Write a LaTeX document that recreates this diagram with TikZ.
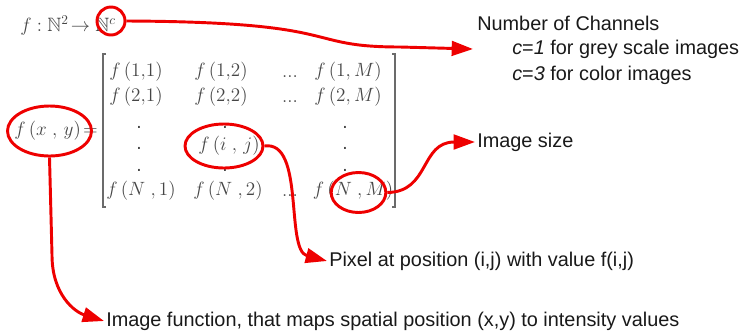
\documentclass[tikz,border=0pt]{standalone}
\usepackage{amssymb}
\usepackage[no-math]{fontspec}
\setmainfont{Liberation Sans}
\usetikzlibrary{arrows.meta,shapes.geometric}
\definecolor{rd}{RGB}{238,0,0}
\definecolor{mgray}{RGB}{70,70,70}
\tikzset{
  conn/.style={draw=rd, line width=2.2pt},
  arr/.style={conn, -{Triangle[length=16pt,width=11pt]}},
  ring/.style={ellipse, draw=rd, line width=2.2pt, inner sep=0pt},
  entry/.style={text=mgray, font=\fontsize{14.5}{17}\selectfont, inner sep=0pt},
  vdot/.style={text=mgray, font=\fontsize{14.5}{17}\selectfont, inner sep=0pt},
  lbl/.style={font=\fontsize{14.9}{17}\selectfont, anchor=west, inner xsep=1.5pt, inner ysep=0pt, text=black!90},
  brk/.style={draw=mgray!80, line width=1.1pt}
}
\begin{document}
\begin{tikzpicture}[x=0.75pt,y=-0.75pt]
\useasboundingbox (0,0) rectangle (745,333);
% formula
\node[entry, anchor=west] (map) at (20,26) {$f:\mathbb{N}^2\!\rightarrow\mathbb{N}^{c}$};
\node[ring, minimum width=21pt, minimum height=21pt] (topc) at (111,21) {};
% matrix brackets
\draw[brk] (106,54) -- (103,54) -- (103,207) -- (106,207);
\draw[brk] (392,54) -- (395,54) -- (395,207) -- (392,207);
% f(x,y)=
\node[entry, anchor=center] (fxyt) at (56,131) {$f\,\bigl(x\;,\,y\bigr)\!=$};
\node[ring, minimum width=63pt, minimum height=37.5pt] (fxy) at (49.5,131) {};
% rows
\node[entry] (a11) at (136,72) {$f\,\bigl(1{,}1\bigr)$};
\node[entry] (a12) at (221,72) {$f\,\bigl(1{,}2\bigr)$};
\node[entry] (a13) at (290,77) {$...$};
\node[entry] (a14) at (348,72) {$f\,\bigl(1,M\bigr)$};
\node[entry] (a21) at (136,97) {$f\,\bigl(2{,}1\bigr)$};
\node[entry] (a22) at (221,97) {$f\,\bigl(2{,}2\bigr)$};
\node[entry] (a23) at (290,102) {$...$};
\node[entry] (a24) at (348,97) {$f\,\bigl(2,M\bigr)$};
% dots
\node[vdot] (d11) at (139,127) {.};
\node[vdot] (d12) at (139,148) {.};
\node[vdot] (d13) at (139,170) {.};
\node[vdot] (d21) at (225,127) {.};
\node[vdot] (d23) at (225,170) {.};
\node[vdot] (d41) at (345,127) {.};
\node[vdot] (d42) at (345,148) {.};
\node[vdot] (d43) at (345,170) {.};
\node[entry] (aij) at (229,146) {$f\,\bigl(i\;,\,j\bigr)$};
\node[ring, minimum width=58.5pt, minimum height=33pt] (fij) at (224,146) {};
\node[entry] (an1) at (141,191) {$f\,\bigl(N\;,1\bigr)$};
\node[entry] (an2) at (228,191) {$f\,\bigl(N\;,2\bigr)$};
\node[entry] (an3) at (290,196) {$...$};
\node[entry] (an4) at (353,191) {$f\,\bigl(N\;,M\bigr)$};
\node[ring, minimum width=41pt, minimum height=30pt] (fnm) at (358.5,192.5) {};
% labels
\node[lbl] (chan1) at (475,23) {Number of Channels};
\node[lbl] (chan2) at (510,49) {\textit{c}=\textit{1} for grey scale images};
\node[lbl] (chan3) at (510,75) {\textit{c}=\textit{3} for color images};
\coordinate (chtip) at (473,49);
\node[lbl] (isize) at (475,142) {Image size};
\node[lbl] (pix) at (327,261) {Pixel at position (i,j) with value f(i,j)};
\node[lbl] (imgf) at (104,321) {Image function, that maps spatial position (x,y) to intensity values};
% connectors
\draw[arr] (topc.east) .. controls (350,22) and (300,47) .. (400,47) -- (chtip);
\draw[arr] (fnm.east) .. controls (430,192) and (420,142) .. (isize.west);
\draw[arr] (fij.east) .. controls (305,140) and (285,250) .. (pix.west);
\draw[arr] (fxy.south) -- (52,255) .. controls (52,295) and (75,312) .. (imgf.west);
\end{tikzpicture}
\end{document}
